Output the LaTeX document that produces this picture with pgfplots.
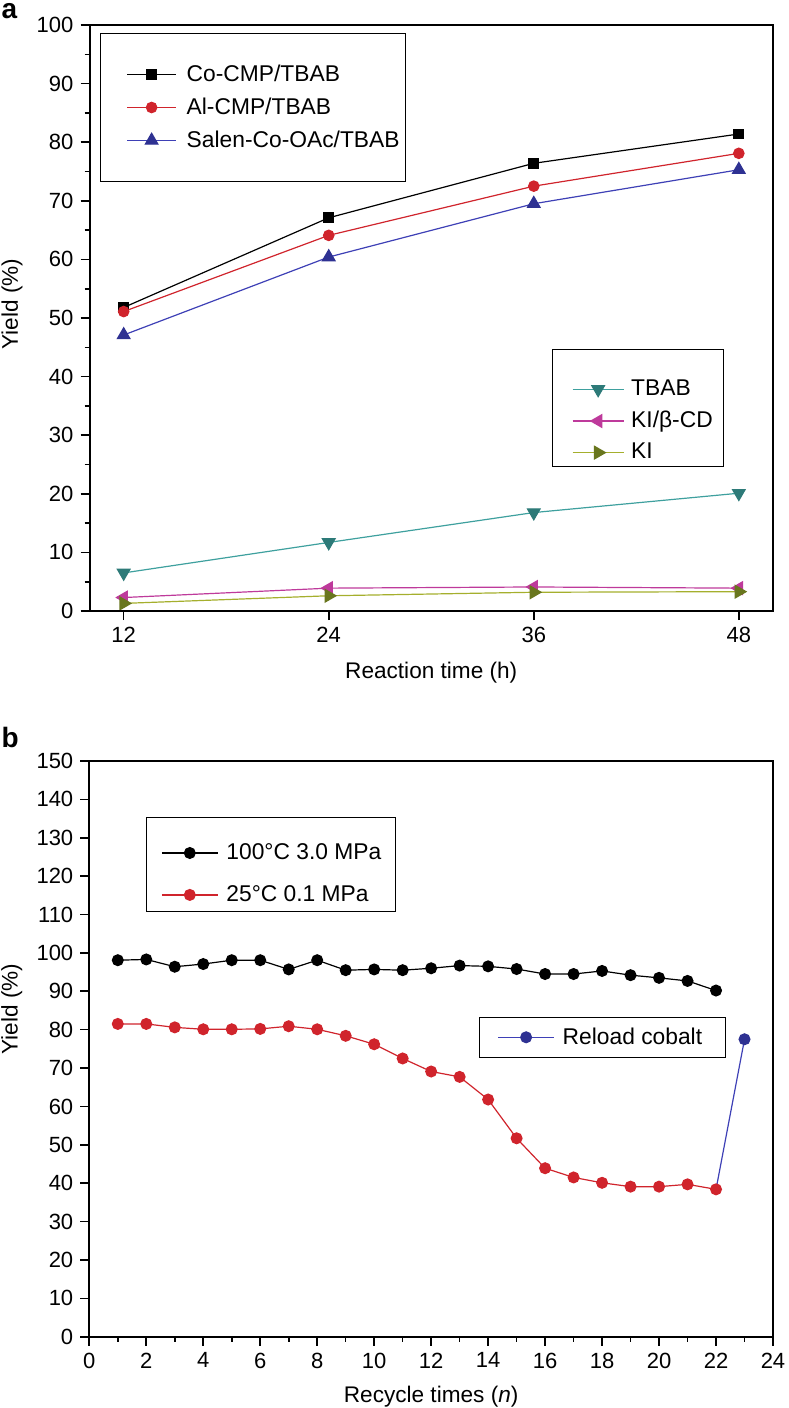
\documentclass[border=0pt]{standalone}
\usepackage{fontspec}
\setmainfont{Liberation Sans}
\usepackage{pgfplots}
\pgfplotsset{compat=1.18}

\definecolor{cred}{RGB}{208,36,44}
\definecolor{cblue}{RGB}{46,49,146}
\definecolor{cblueline}{RGB}{62,64,182}
\definecolor{cteal}{RGB}{45,122,120}
\definecolor{ctealline}{RGB}{62,160,158}
\definecolor{cmag}{RGB}{190,58,155}
\definecolor{colive}{RGB}{105,118,30}
\definecolor{coliveline}{RGB}{165,175,45}

\pgfplotsset{
  fig/.style={
    scale only axis,
    axis line style={line width=1pt},
    tick align=outside, xtick pos=bottom, ytick pos=left,
    major tick length=4.5pt, minor tick length=2.5pt,
    every tick/.style={black, line width=0.8pt},
    tick label style={font=\fontsize{11}{13}\selectfont},
    label style={font=\fontsize{11.3}{13}\selectfont},
    /pgf/number format/assume math mode=true,
    legend cell align=left,
    every axis plot/.append style={line width=0.6pt},
  },
  % legend line: start, middle, end (pt)
  limg/.style n args={3}{legend image code/.code={\path (0pt,0pt);
    \draw[mark repeat=2,mark phase=2,##1] plot coordinates {(#1pt,0pt) (#2pt,0pt) (#3pt,0pt)};}},
  pa/.style={fig, at={(44.75pt,-305.5pt)}, anchor=south west,
    width=341.75pt, height=293pt,
    xmin=10, xmax=50, ymin=0, ymax=100,
    xtick={12,24,36,48}, ytick={0,10,...,100}, minor y tick num=1},
  pb/.style={fig, at={(44.65pt,-668.35pt)}, anchor=south west,
    width=341.85pt, height=287.85pt,
    xmin=0, xmax=24, ymin=0, ymax=150,
    xtick={0,2,...,24}, minor x tick num=1, ytick={0,10,...,150}},
  lg/.style={draw=black, line width=0.5pt, font=\fontsize{11.4}{13}\selectfont},
}

\begin{document}
\begin{tikzpicture}
\useasboundingbox (0pt,0pt) rectangle (394pt,-704pt);

\node[anchor=base west, font=\bfseries\fontsize{14}{16}\selectfont, inner sep=0pt] at (0.6pt,-9.2pt) {a};
\node[anchor=base west, font=\bfseries\fontsize{14}{16}\selectfont, inner sep=0pt] at (0.6pt,-373.5pt) {b};

% panel a, second legend group
\begin{axis}[pa, hide axis, limg={5.5}{18.25}{31},
  legend style={lg, at={(0.676,0.447)}, anchor=north west,
    inner xsep=4.5pt, inner ysep=0.5pt, row sep=2.25pt, column sep=2.5pt, nodes={inner xsep=1pt}}]
  \addlegendimage{empty legend}
  \addlegendentry[inner ysep=4.5pt]{\mbox{}}
  \addplot[ctealline, mark=triangle*, mark size=3.6pt, mark options={draw=cteal, fill=cteal, rotate=180}]
    coordinates {(12,6.5) (24,11.7) (36,16.8) (48,20.1)};
  \addlegendentry{TBAB}
  \addplot[cmag, mark=triangle*, mark size=3.6pt, mark options={draw=cmag, fill=cmag, rotate=90}]
    coordinates {(12,2.3) (24,3.9) (36,4.1) (48,3.9)};
  \addlegendentry{KI/β-CD}
  \addplot[coliveline, mark=triangle*, mark size=3.6pt, mark options={draw=colive, fill=colive, rotate=-90}]
    coordinates {(12,1.3) (24,2.6) (36,3.2) (48,3.3)};
  \addlegendentry{KI}
\end{axis}

% panel a, main
\begin{axis}[pa, limg={11}{23.25}{35.5},
  xlabel={Reaction time (h)}, ylabel={Yield (\%)},
  xlabel style={at={(axis description cs:0.5,-0.106)}, anchor=center},
  ylabel style={at={(axis description cs:-0.1134,0.524)}, anchor=center},
  legend style={lg, at={(0.0154,0.986)}, anchor=north west,
    inner xsep=2pt, inner ysep=13.5pt, row sep=2.75pt, column sep=4pt, nodes={inner xsep=1pt}}]
  \addplot[black, mark=square*, mark size=2.4pt, mark options={fill=black}]
    coordinates {(12,51.8) (24,67.1) (36,76.4) (48,81.4)};
  \addplot[cred, mark=*, mark size=2.6pt, mark options={fill=cred}]
    coordinates {(12,51.1) (24,64.1) (36,72.5) (48,78.1)};
  \addplot[cblueline, mark=triangle*, mark size=3.6pt, mark options={draw=cblue, fill=cblue}]
    coordinates {(12,47.1) (24,60.4) (36,69.5) (48,75.3)};
  \legend{Co-CMP/TBAB, Al-CMP/TBAB, Salen-Co-OAc/TBAB}
\end{axis}

% panel b, reload legend
\begin{axis}[pb, hide axis, limg={0}{14}{28},
  legend style={lg, at={(0.570,0.5553)}, anchor=north west,
    inner xsep=9pt, inner ysep=3pt, column sep=1.5pt, nodes={inner xsep=2.5pt}}]
  \addplot[cblueline, mark=*, mark size=2.7pt, mark options={draw=cblue, fill=cblue}, mark indices={2}]
    coordinates {(22,38.4) (23,77.5)};
  \addlegendentry{Reload cobalt}
\end{axis}

% panel b, main
\begin{axis}[pb, limg={1.5}{15.5}{29.5},
  xlabel={Recycle times (\textit{n})}, ylabel={Yield (\%)},
  xlabel style={at={(axis description cs:0.5,-0.1042)}, anchor=center},
  ylabel style={at={(axis description cs:-0.1134,0.569)}, anchor=center},
  legend style={lg, at={(0.0825,0.9027)}, anchor=north west,
    inner xsep=6pt, inner ysep=1.5pt, row sep=7.5pt, column sep=3pt, nodes={inner xsep=1pt}}]
  \addlegendimage{empty legend}
  \addlegendentry[inner ysep=1pt, text depth=0pt]{\mbox{}}
  \addplot[black, mark=*, mark size=2.7pt, mark options={fill=black}]
    coordinates {(1,98.1) (2,98.3) (3,96.4) (4,97.1) (5,98.1) (6,98.1) (7,95.7) (8,98.1)
      (9,95.5) (10,95.7) (11,95.5) (12,96.0) (13,96.7) (14,96.5) (15,95.8) (16,94.5)
      (17,94.5) (18,95.3) (19,94.2) (20,93.5) (21,92.7) (22,90.2)};
  \addlegendentry{100°C 3.0 MPa}
  \addplot[cred, mark=*, mark size=2.7pt, mark options={fill=cred}]
    coordinates {(1,81.5) (2,81.5) (3,80.6) (4,80.1) (5,80.1) (6,80.2) (7,80.9) (8,80.1)
      (9,78.4) (10,76.2) (11,72.5) (12,69.1) (13,67.7) (14,61.8) (15,51.7) (16,43.9)
      (17,41.5) (18,40.1) (19,39.1) (20,39.1) (21,39.7) (22,38.4)};
  \addlegendentry{25°C 0.1 MPa}
\end{axis}
\end{tikzpicture}
\end{document}
